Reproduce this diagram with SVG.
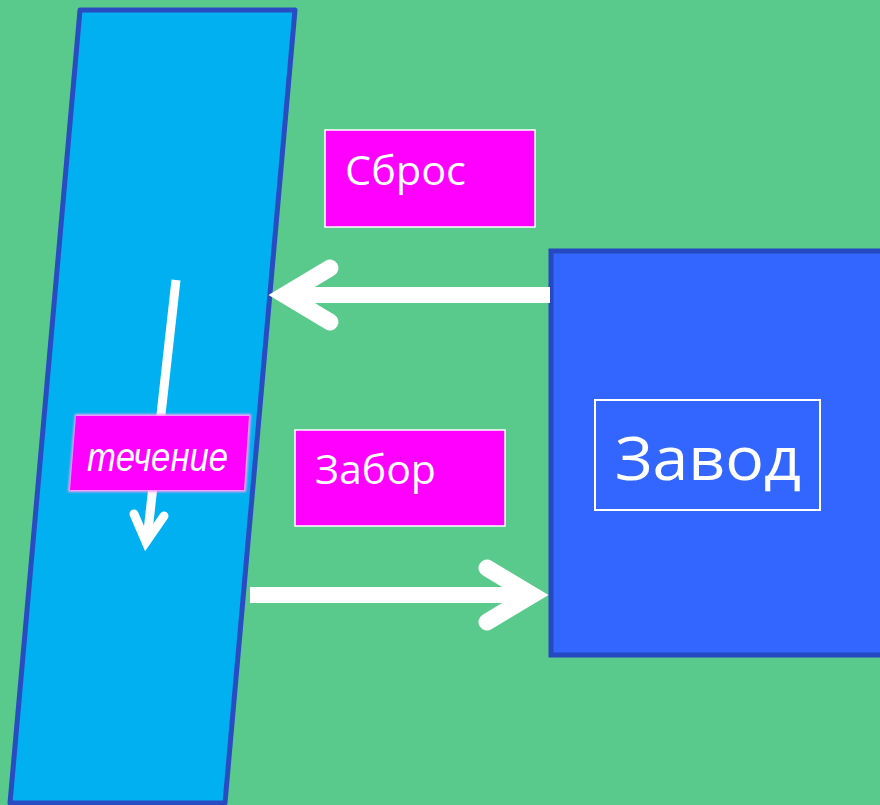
<svg xmlns="http://www.w3.org/2000/svg" width="880" height="805" viewBox="0 0 880 805">
  <defs>
    <style>
      .lbl { fill: #ff00ff; stroke: #ffffff; stroke-width: 1.5; }
      .lbl-text { fill: #ffffff; font-family: "Open Sans", "Noto Sans", "DejaVu Sans", sans-serif; }
      .shaft { fill: none; stroke: #ffffff; stroke-linecap: butt; }
      .head { fill: none; stroke: #ffffff; stroke-linecap: round; stroke-linejoin: miter; }
    </style>
    <filter id="glow" x="-10%" y="-20%" width="120%" height="140%">
      <feGaussianBlur stdDeviation="1.2"/>
    </filter>
  </defs>

  <!-- background -->
  <rect x="0" y="0" width="880" height="805" fill="#5aca8c"/>

  <!-- river -->
  <g id="river">
    <polygon points="80,10 295,10 225,803 10,803" fill="#00b0f0" stroke="#2a4cc2" stroke-width="5" stroke-linejoin="round"/>
  </g>

  <!-- factory -->
  <g id="factory">
    <rect x="551" y="251" width="332" height="404" fill="#3366ff" stroke="#2648c0" stroke-width="5"/>
    <rect x="595" y="400" width="225" height="110" fill="none" stroke="#ffffff" stroke-width="2"/>
    <text class="lbl-text" x="615" y="480" font-size="60" textLength="186" lengthAdjust="spacingAndGlyphs">Завод</text>
  </g>

  <!-- discharge label -->
  <g id="label-discharge">
    <rect class="lbl" x="325" y="130" width="210" height="97"/>
    <text class="lbl-text" x="345" y="185" font-size="40" textLength="121" lengthAdjust="spacingAndGlyphs">Сброс</text>
  </g>

  <!-- intake label -->
  <g id="label-intake">
    <rect class="lbl" x="295" y="430" width="210" height="96"/>
    <text class="lbl-text" x="315" y="484" font-size="40" textLength="121" lengthAdjust="spacingAndGlyphs">Забор</text>
  </g>

  <!-- connectors -->
  <g id="connectors">
    <!-- flow direction inside the river -->
    <line class="shaft" x1="176" y1="280" x2="147" y2="540" stroke-width="9"/>
    <polyline class="head" points="134,514 146,542 164,516" stroke-width="9"/>
    <!-- discharge: factory to river -->
    <line class="shaft" x1="550" y1="295" x2="290" y2="295" stroke-width="16"/>
    <polyline class="head" points="330,268 285,295 330,322" stroke-width="17"/>
    <!-- intake: river to factory -->
    <line class="shaft" x1="250" y1="595" x2="520" y2="595" stroke-width="16"/>
    <polyline class="head" points="487,568 532,595 487,622" stroke-width="17"/>
  </g>

  <!-- flow label -->
  <g id="label-flow">
    <polygon points="75,414 251,414 246,492 68,492" fill="#ff9cf5" filter="url(#glow)"/>
    <polygon points="76,416 249,416 244,490 70,490" fill="#ff00ff"/>
    <text x="87" y="471" font-family="'Liberation Sans', Arial, sans-serif" font-style="italic" font-size="40" fill="#ffffff" textLength="141" lengthAdjust="spacingAndGlyphs">течение</text>
  </g>
</svg>
